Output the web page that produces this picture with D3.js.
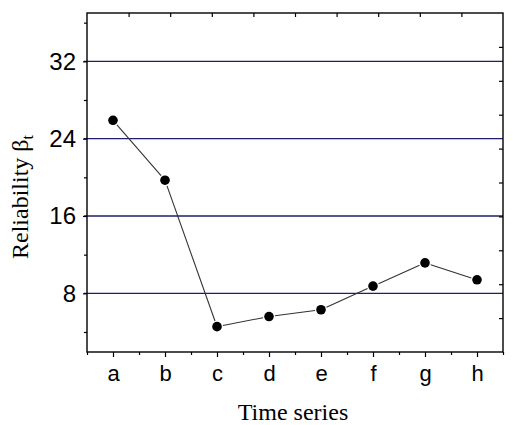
<!DOCTYPE html>
<html>
<head>
<meta charset="utf-8">
<script src="https://cdn.jsdelivr.net/npm/d3@7"></script>
<style>
  html, body { margin: 0; padding: 0; background: #fff; }
  svg { display: block; }
</style>
</head>
<body>
<svg id="chart" width="513" height="425"></svg>
<script>
const categories = ["a", "b", "c", "d", "e", "f", "g", "h"];
const values = [25.9, 19.7, 4.55, 5.6, 6.3, 8.75, 11.15, 9.4];
const yMajorTicks = [8, 16, 24, 32];
const yMinorTicks = [4, 12, 20, 28, 36];
const xLabel = "Time series";
const yLabel = "Reliability β";
const yLabelSub = "t";

const svg = d3.select("#chart");
const L = 87, R = 503, T = 13, B = 352;

const x = d3.scaleLinear().domain([0.5, categories.length + 0.5]).range([L, R]);
const y = d3.scaleLinear().domain([1.93, 37.0]).range([B, T]);

// gridlines
svg.append("g").selectAll("line").data(yMajorTicks).join("line")
  .attr("x1", L - 3).attr("x2", R)
  .attr("y1", d => y(d)).attr("y2", d => y(d))
  .attr("stroke", "#1f1f6b").attr("stroke-width", 1.3);

// frame
svg.append("rect").attr("x", L).attr("y", T).attr("width", R - L).attr("height", B - T)
  .attr("fill", "none").attr("stroke", "#000").attr("stroke-width", 1.4);

// left axis (outward ticks)
const leftMajor = d3.axisLeft(y).tickValues(yMajorTicks).tickSize(4).tickPadding(7).tickFormat(d3.format("d"));
const gl = svg.append("g").attr("transform", `translate(${L},0)`).call(leftMajor);
gl.select(".domain").remove();
gl.selectAll("text").attr("font-family", "Liberation Sans, Arial, sans-serif").attr("font-size", 24).attr("fill", "#000");
const gl2 = svg.append("g").attr("transform", `translate(${L},0)`)
  .call(d3.axisLeft(y).tickValues(yMinorTicks).tickSize(3).tickFormat(""));
gl2.select(".domain").remove();

// bottom axis (outward ticks)
const xMajorVals = d3.range(1, categories.length + 1);
const xMinorVals = d3.range(0.5, categories.length + 1, 1);
const gb = svg.append("g").attr("transform", `translate(0,${B})`)
  .call(d3.axisBottom(x).tickValues(xMajorVals).tickSize(5).tickPadding(8).tickFormat(d => categories[d - 1]));
gb.select(".domain").remove();
gb.selectAll("text").attr("font-family", "Liberation Sans, Arial, sans-serif").attr("font-size", 22).attr("fill", "#000");
const gb2 = svg.append("g").attr("transform", `translate(0,${B})`)
  .call(d3.axisBottom(x).tickValues(xMinorVals).tickSize(3).tickFormat(""));
gb2.select(".domain").remove();

// top axis: inward ticks, 10 divisions
const topScale = d3.scaleLinear().domain([0, 10]).range([L, R]);
const gt = svg.append("g").attr("transform", `translate(0,${T})`)
  .call(d3.axisBottom(topScale).tickValues(d3.range(1, 10)).tickSize(4).tickFormat(""));
gt.select(".domain").remove();

// right axis: inward ticks, 10 divisions
const rightScale = d3.scaleLinear().domain([0, 10]).range([T, B]);
const gr = svg.append("g").attr("transform", `translate(${R},0)`)
  .call(d3.axisLeft(rightScale).tickValues(d3.range(1, 10)).tickSize(4).tickFormat(""));
gr.select(".domain").remove();

svg.selectAll(".tick line").attr("stroke", "#000").attr("stroke-width", 1.2);

// line segments with small gaps near markers
const pts = values.map((v, i) => [x(i + 1), y(v)]);
const rad = 4.8, gap = 6;
const segs = d3.pairs(pts).map(([p, q]) => {
  const dx = q[0] - p[0], dy = q[1] - p[1], len = Math.hypot(dx, dy);
  const ux = dx / len, uy = dy / len;
  return [p[0] + ux * gap, p[1] + uy * gap, q[0] - ux * gap, q[1] - uy * gap];
});
svg.append("g").selectAll("line").data(segs).join("line")
  .attr("x1", d => d[0]).attr("y1", d => d[1]).attr("x2", d => d[2]).attr("y2", d => d[3])
  .attr("stroke", "#333").attr("stroke-width", 1.1);

svg.append("g").selectAll("circle").data(values).join("circle")
  .attr("cx", (d, i) => x(i + 1)).attr("cy", d => y(d)).attr("r", rad).attr("fill", "#000");

// axis titles
svg.append("text").attr("x", 293).attr("y", 420).attr("text-anchor", "middle")
  .attr("font-family", "Liberation Serif, Times New Roman, serif").attr("font-size", 24).attr("fill", "#000")
  .text(xLabel);

const yt = svg.append("text").attr("transform", "translate(28,197) rotate(-90)").attr("text-anchor", "middle")
  .attr("font-family", "Liberation Serif, Times New Roman, serif").attr("font-size", 24).attr("fill", "#000");
yt.append("tspan").text(yLabel);
yt.append("tspan").attr("font-size", 16).attr("dy", 5).text(yLabelSub);
</script>
</body>
</html>
